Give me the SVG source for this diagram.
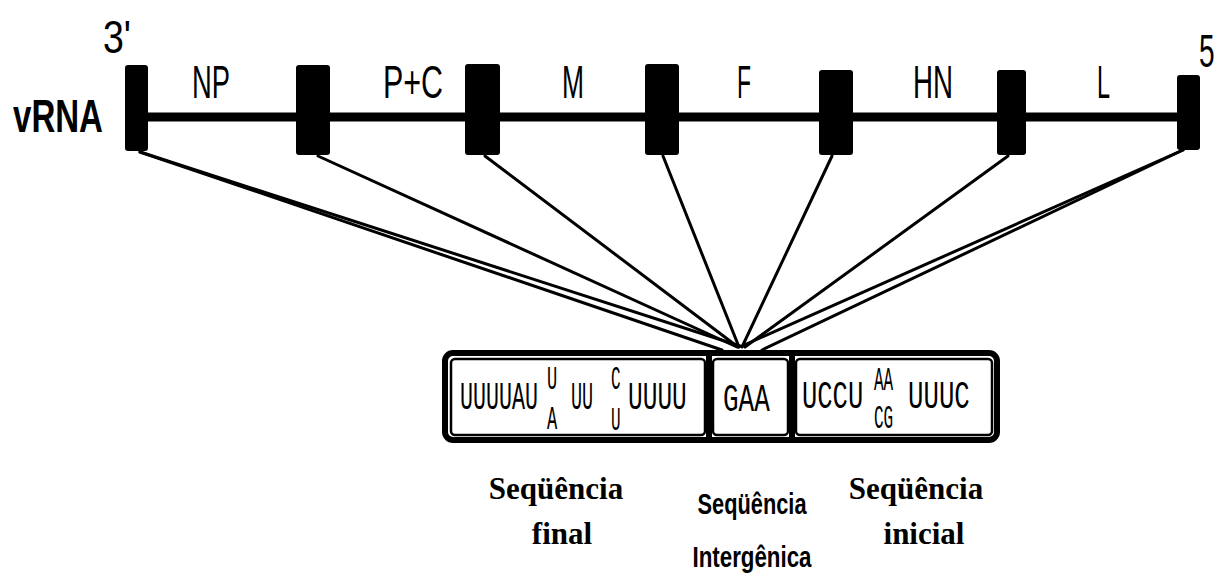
<svg xmlns="http://www.w3.org/2000/svg" width="1219" height="575" viewBox="0 0 1219 575">
<style>
.lbl{font-family:"Liberation Sans",Arial,sans-serif;font-size:46px;fill:#000}
.seq{font-family:"Liberation Mono","Courier New",monospace;font-size:38px;fill:#000}
.sm{font-family:"Liberation Mono","Courier New",monospace;font-size:33px;fill:#000}
.cap{font-family:"Liberation Serif","Times New Roman",serif;font-size:31px;font-weight:bold;fill:#000}
.mid{font-family:"Liberation Sans",Arial,sans-serif;font-size:29px;font-weight:bold;fill:#000}
.blk{fill:#000}
.con{stroke:#000;stroke-width:3;fill:none;stroke-linecap:round}
</style>
<rect width="1219" height="575" fill="#fff"/>
<g id="connectors">
<line class="con" x1="140" y1="152" x2="740" y2="346"/>
<line class="con" x1="140" y1="152" x2="722" y2="350"/>
<line class="con" x1="318" y1="156" x2="737" y2="347"/>
<line class="con" x1="485" y1="156" x2="738" y2="347"/>
<line class="con" x1="663" y1="156" x2="739" y2="347"/>
<line class="con" x1="832" y1="156" x2="742" y2="347"/>
<line class="con" x1="1008" y1="156" x2="745" y2="347"/>
<line class="con" x1="1183" y1="150" x2="742" y2="346"/>
<line class="con" x1="1183" y1="150" x2="762" y2="350"/>
</g>
<g id="vrna">
<line x1="140" y1="117" x2="1185" y2="117" stroke="#000" stroke-width="9"/>
<text class="lbl" x="13" y="132" font-weight="bold" font-size="52" textLength="90" lengthAdjust="spacingAndGlyphs">vRNA</text>
<text class="lbl" x="103" y="53" textLength="28" lengthAdjust="spacingAndGlyphs">3'</text>
<text class="lbl" transform="matrix(0.6 0 0 1 1199 67)" textLength="26" lengthAdjust="spacingAndGlyphs">5</text>
</g>
<g id="junction1"><rect class="blk" x="125" y="65" width="23" height="86" rx="3"/></g>
<g id="junction2"><rect class="blk" x="296" y="65" width="34" height="90" rx="3"/></g>
<g id="junction3"><rect class="blk" x="465" y="64" width="35" height="91" rx="3"/></g>
<g id="junction4"><rect class="blk" x="645" y="64" width="34" height="91" rx="3"/></g>
<g id="junction5"><rect class="blk" x="819" y="70" width="34" height="85" rx="3"/></g>
<g id="junction6"><rect class="blk" x="997" y="70" width="29" height="85" rx="3"/></g>
<g id="junction7"><rect class="blk" x="1177" y="75" width="23" height="75" rx="3"/></g>
<g id="gene-NP"><text class="lbl" x="192" y="98" textLength="38" lengthAdjust="spacingAndGlyphs">NP</text></g>
<g id="gene-PC"><text class="lbl" x="383" y="98" textLength="60" lengthAdjust="spacingAndGlyphs">P+C</text></g>
<g id="gene-M"><text class="lbl" x="562" y="98" textLength="22" lengthAdjust="spacingAndGlyphs">M</text></g>
<g id="gene-F"><text class="lbl" x="737" y="98" textLength="14" lengthAdjust="spacingAndGlyphs">F</text></g>
<g id="gene-HN"><text class="lbl" x="913" y="98" textLength="40" lengthAdjust="spacingAndGlyphs">HN</text></g>
<g id="gene-L"><text class="lbl" x="1097" y="98" textLength="13" lengthAdjust="spacingAndGlyphs">L</text></g>
<g id="sequence-box">
<rect x="445" y="353" width="552" height="87" rx="8" fill="#fff" stroke="#000" stroke-width="6"/>
<rect x="706" y="353" width="6" height="87" fill="#000"/>
<rect x="789" y="353" width="6" height="87" fill="#000"/>
<rect x="451" y="359" width="254" height="76" rx="4" fill="#fff" stroke="#000" stroke-width="2.5"/>
<rect x="713" y="359" width="75" height="76" rx="4" fill="#fff" stroke="#000" stroke-width="2.5"/>
<rect x="796" y="359" width="196" height="76" rx="4" fill="#fff" stroke="#000" stroke-width="2.5"/>
<text class="seq" transform="matrix(0.6 0 0 1 460 409)" textLength="130" lengthAdjust="spacingAndGlyphs">UUUUAU</text>
<text class="sm" transform="matrix(0.6 0 0 1 547 389)" textLength="17" lengthAdjust="spacingAndGlyphs">U</text>
<text class="sm" transform="matrix(0.6 0 0 1 547 429)" textLength="17" lengthAdjust="spacingAndGlyphs">A</text>
<text class="seq" transform="matrix(0.6 0 0 1 571 409)" textLength="37" lengthAdjust="spacingAndGlyphs">UU</text>
<text class="sm" transform="matrix(0.6 0 0 1 611 389)" textLength="16" lengthAdjust="spacingAndGlyphs">C</text>
<text class="sm" transform="matrix(0.6 0 0 1 611 430)" textLength="16" lengthAdjust="spacingAndGlyphs">U</text>
<text class="seq" transform="matrix(0.6 0 0 1 628 409)" textLength="98" lengthAdjust="spacingAndGlyphs">UUUU</text>
<text class="seq" transform="matrix(0.6 0 0 1 723 411)" textLength="78" lengthAdjust="spacingAndGlyphs">GAA</text>
<text class="seq" transform="matrix(0.6 0 0 1 802 408)" textLength="102" lengthAdjust="spacingAndGlyphs">UCCU</text>
<text class="sm" transform="matrix(0.6 0 0 1 874 390)" textLength="32" lengthAdjust="spacingAndGlyphs">AA</text>
<text class="sm" transform="matrix(0.6 0 0 1 874 428)" textLength="32" lengthAdjust="spacingAndGlyphs">CG</text>
<text class="seq" transform="matrix(0.6 0 0 1 908 408)" textLength="103" lengthAdjust="spacingAndGlyphs">UUUC</text>
</g>
<g id="label-final">
<text class="cap" x="556" y="499" text-anchor="middle">Seqüência</text>
<text class="cap" x="562" y="544" text-anchor="middle">final</text>
</g>
<g id="label-intergenica">
<text class="mid" x="752" y="514" text-anchor="middle" textLength="109" lengthAdjust="spacingAndGlyphs">Seqüência</text>
<text class="mid" x="752" y="567" text-anchor="middle" textLength="119" lengthAdjust="spacingAndGlyphs">Intergênica</text>
</g>
<g id="label-inicial">
<text class="cap" x="916" y="499" text-anchor="middle">Seqüência</text>
<text class="cap" x="924" y="544" text-anchor="middle">inicial</text>
</g>
</svg>
